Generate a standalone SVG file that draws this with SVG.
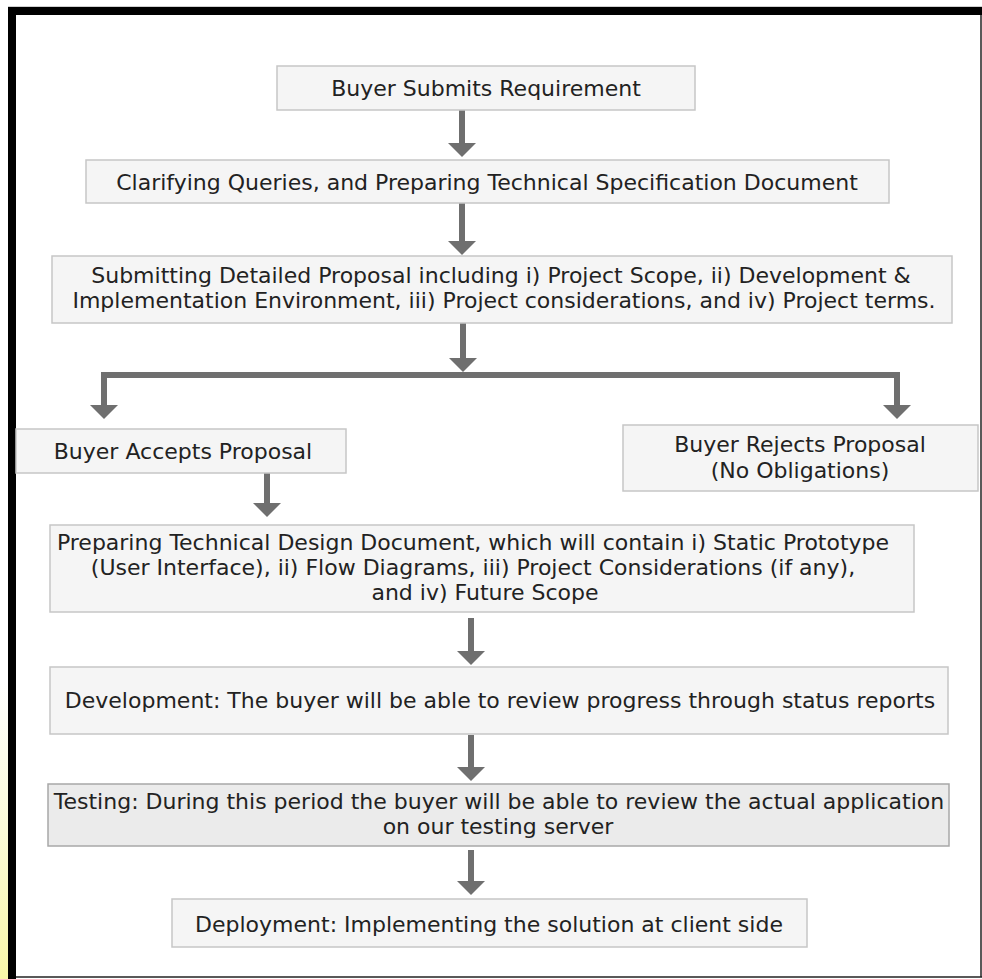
<svg xmlns="http://www.w3.org/2000/svg" width="982" height="979" viewBox="0 0 982 979">
<style>
.box{fill:#f5f5f5;stroke:#c6c6c6;stroke-width:1.5}
.box2{fill:#ebebeb;stroke:#a8a8a8;stroke-width:1.5}
.t{font-family:"DejaVu Sans",Verdana,sans-serif;font-size:22px;fill:#222;text-anchor:middle}
.sh{stroke:#6f6f6f;stroke-width:6;fill:none}
.hd{fill:#6f6f6f}
</style>
<defs>
<linearGradient id="glow" x1="0" y1="0" x2="0" y2="1">
<stop offset="0" stop-color="#ffffff"/>
<stop offset="0.5" stop-color="#fbfbd8"/>
<stop offset="1" stop-color="#f8f6a8"/>
</linearGradient>
</defs>
<rect x="0" y="0" width="982" height="979" fill="#ffffff"/>
<rect x="0" y="680" width="8" height="299" fill="url(#glow)"/>
<line x1="8" y1="6.5" x2="982" y2="6.5" stroke="#d0d0d0" stroke-width="1"/>
<rect x="8" y="7" width="974" height="8" fill="#000"/>
<rect x="8" y="7" width="8" height="972" fill="#000"/>
<line x1="981" y1="15" x2="981" y2="977" stroke="#222" stroke-width="1.5"/>
<line x1="16" y1="977" x2="982" y2="977" stroke="#222" stroke-width="1.5"/>

<g id="connectors">
<line class="sh" x1="462" y1="110" x2="462" y2="144"/>
<polygon class="hd" points="448,143 476,143 462,157"/>
<line class="sh" x1="462" y1="203" x2="462" y2="242"/>
<polygon class="hd" points="448,241 476,241 462,255"/>
<line class="sh" x1="463" y1="323" x2="463" y2="359"/>
<polygon class="hd" points="449,358 477,358 463,372"/>
<polyline class="sh" points="104,406 104,375 897,375 897,406"/>
<polygon class="hd" points="90,405 118,405 104,419"/>
<polygon class="hd" points="883,405 911,405 897,419"/>
<line class="sh" x1="267" y1="473" x2="267" y2="504"/>
<polygon class="hd" points="253,503 281,503 267,517"/>
<line class="sh" x1="471" y1="618" x2="471" y2="652"/>
<polygon class="hd" points="457,651 485,651 471,665"/>
<line class="sh" x1="471" y1="735" x2="471" y2="768"/>
<polygon class="hd" points="457,767 485,767 471,781"/>
<line class="sh" x1="471" y1="850" x2="471" y2="882"/>
<polygon class="hd" points="457,881 485,881 471,895"/>
</g>

<g id="n1">
<rect class="box" x="277" y="66" width="418" height="44"/>
<text class="t" x="486" y="96">Buyer Submits Requirement</text>
</g>
<g id="n2">
<rect class="box" x="86" y="160" width="803" height="43"/>
<text class="t" x="487" y="190">Clarifying Queries, and Preparing Technical Specification Document</text>
</g>
<g id="n3">
<rect class="box" x="52" y="256" width="900" height="67"/>
<text class="t" x="501" y="283">Submitting Detailed Proposal including i) Project Scope, ii) Development &amp;</text>
<text class="t" x="504" y="308">Implementation Environment, iii) Project considerations, and iv) Project terms.</text>
</g>
<g id="n4">
<rect class="box" x="16" y="429" width="330" height="44"/>
<text class="t" x="183" y="459">Buyer Accepts Proposal</text>
</g>
<g id="n5">
<rect class="box" x="623" y="425" width="355" height="66"/>
<text class="t" x="800" y="452">Buyer Rejects Proposal</text>
<text class="t" x="800" y="478">(No Obligations)</text>
</g>
<g id="n6">
<rect class="box" x="50" y="525" width="864" height="87"/>
<text class="t" x="473" y="550">Preparing Technical Design Document, which will contain i) Static Prototype</text>
<text class="t" x="473" y="575">(User Interface), ii) Flow Diagrams, iii) Project Considerations (if any),</text>
<text class="t" x="485" y="600">and iv) Future Scope</text>
</g>
<g id="n7">
<rect class="box" x="50" y="667" width="898" height="67"/>
<text class="t" x="500" y="708">Development: The buyer will be able to review progress through status reports</text>
</g>
<g id="n8">
<rect class="box2" x="48" y="784" width="901" height="62"/>
<text class="t" x="499" y="809">Testing: During this period the buyer will be able to review the actual application</text>
<text class="t" x="498" y="834">on our testing server</text>
</g>
<g id="n9">
<rect class="box" x="172" y="899" width="635" height="48"/>
<text class="t" x="489" y="932">Deployment: Implementing the solution at client side</text>
</g>
</svg>
